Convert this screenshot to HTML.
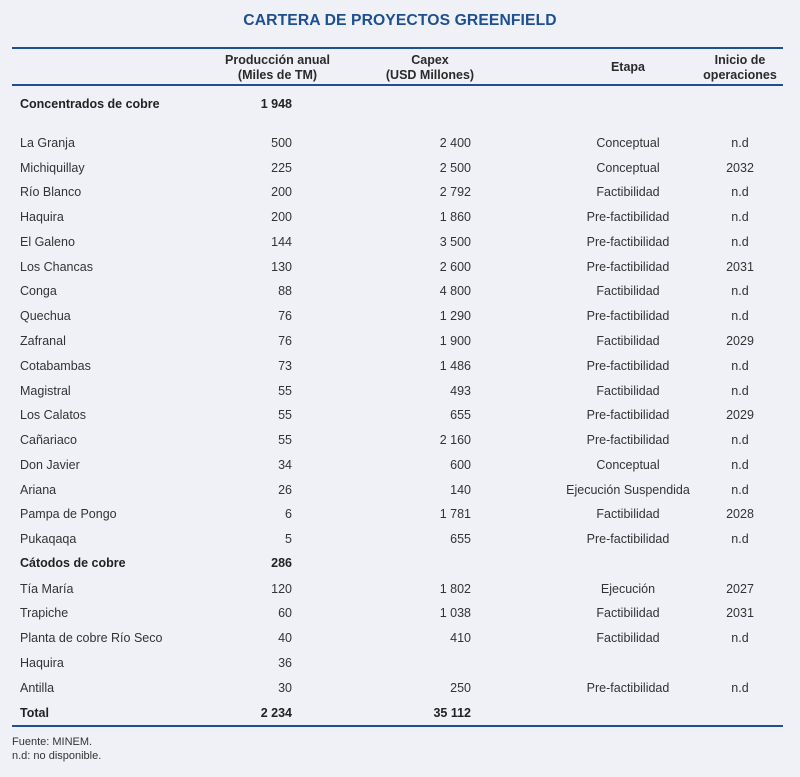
<!DOCTYPE html>
<html><head><meta charset="utf-8"><style>
body{margin:0;width:800px;height:777px;background:#f0f1f7;font-family:"Liberation Sans",sans-serif;color:#333;position:relative;overflow:hidden}
.t{position:absolute;left:0;width:800px;top:12px;text-align:center;font-size:15.7px;font-weight:bold;color:#1d4f91;letter-spacing:0.1px}
.hl{position:absolute;left:12px;width:771px;height:1.5px;background:#1d4f91}
.h{position:absolute;font-size:12.5px;font-weight:bold;line-height:15px;text-align:center;color:#2a2a2a}
.r{position:absolute;left:0;width:800px;height:18px;font-size:12.5px;line-height:18px}
.r span{position:absolute;white-space:nowrap}
.a{left:20px}.b{right:508px;text-align:right}.c{right:329px;text-align:right}
.d{left:548px;width:160px;text-align:center}.e{left:700px;width:80px;text-align:center}
.bo{font-weight:bold;color:#222}
.f{position:absolute;left:12px;font-size:11px;line-height:14px;top:735px}
</style></head><body>
<div class="t">CARTERA DE PROYECTOS GREENFIELD</div>
<div class="hl" style="top:47px"></div>
<div class="hl" style="top:84px"></div>
<div class="hl" style="top:725px"></div>
<div class="h" style="left:200px;width:155px;top:53px">Producción anual<br>(Miles de TM)</div>
<div class="h" style="left:365px;width:130px;top:53px">Capex<br>(USD Millones)</div>
<div class="h" style="left:548px;width:160px;top:60px">Etapa</div>
<div class="h" style="left:690px;width:100px;top:53px">Inicio de<br>operaciones</div>
<div class="r bo" style="top:95px"><span class="a">Concentrados de cobre</span><span class="b">1 948</span></div>
<div class="r" style="top:134px"><span class="a">La Granja</span><span class="b">500</span><span class="c">2 400</span><span class="d">Conceptual</span><span class="e">n.d</span></div>
<div class="r" style="top:159px"><span class="a">Michiquillay</span><span class="b">225</span><span class="c">2 500</span><span class="d">Conceptual</span><span class="e">2032</span></div>
<div class="r" style="top:183px"><span class="a">Río Blanco</span><span class="b">200</span><span class="c">2 792</span><span class="d">Factibilidad</span><span class="e">n.d</span></div>
<div class="r" style="top:208px"><span class="a">Haquira</span><span class="b">200</span><span class="c">1 860</span><span class="d">Pre-factibilidad</span><span class="e">n.d</span></div>
<div class="r" style="top:233px"><span class="a">El Galeno</span><span class="b">144</span><span class="c">3 500</span><span class="d">Pre-factibilidad</span><span class="e">n.d</span></div>
<div class="r" style="top:258px"><span class="a">Los Chancas</span><span class="b">130</span><span class="c">2 600</span><span class="d">Pre-factibilidad</span><span class="e">2031</span></div>
<div class="r" style="top:282px"><span class="a">Conga</span><span class="b">88</span><span class="c">4 800</span><span class="d">Factibilidad</span><span class="e">n.d</span></div>
<div class="r" style="top:307px"><span class="a">Quechua</span><span class="b">76</span><span class="c">1 290</span><span class="d">Pre-factibilidad</span><span class="e">n.d</span></div>
<div class="r" style="top:332px"><span class="a">Zafranal</span><span class="b">76</span><span class="c">1 900</span><span class="d">Factibilidad</span><span class="e">2029</span></div>
<div class="r" style="top:357px"><span class="a">Cotabambas</span><span class="b">73</span><span class="c">1 486</span><span class="d">Pre-factibilidad</span><span class="e">n.d</span></div>
<div class="r" style="top:382px"><span class="a">Magistral</span><span class="b">55</span><span class="c">493</span><span class="d">Factibilidad</span><span class="e">n.d</span></div>
<div class="r" style="top:406px"><span class="a">Los Calatos</span><span class="b">55</span><span class="c">655</span><span class="d">Pre-factibilidad</span><span class="e">2029</span></div>
<div class="r" style="top:431px"><span class="a">Cañariaco</span><span class="b">55</span><span class="c">2 160</span><span class="d">Pre-factibilidad</span><span class="e">n.d</span></div>
<div class="r" style="top:456px"><span class="a">Don Javier</span><span class="b">34</span><span class="c">600</span><span class="d">Conceptual</span><span class="e">n.d</span></div>
<div class="r" style="top:481px"><span class="a">Ariana</span><span class="b">26</span><span class="c">140</span><span class="d">Ejecución Suspendida</span><span class="e">n.d</span></div>
<div class="r" style="top:505px"><span class="a">Pampa de Pongo</span><span class="b">6</span><span class="c">1 781</span><span class="d">Factibilidad</span><span class="e">2028</span></div>
<div class="r" style="top:530px"><span class="a">Pukaqaqa</span><span class="b">5</span><span class="c">655</span><span class="d">Pre-factibilidad</span><span class="e">n.d</span></div>
<div class="r bo" style="top:554px"><span class="a">Cátodos de cobre</span><span class="b">286</span></div>
<div class="r" style="top:580px"><span class="a">Tía María</span><span class="b">120</span><span class="c">1 802</span><span class="d">Ejecución</span><span class="e">2027</span></div>
<div class="r" style="top:604px"><span class="a">Trapiche</span><span class="b">60</span><span class="c">1 038</span><span class="d">Factibilidad</span><span class="e">2031</span></div>
<div class="r" style="top:629px"><span class="a">Planta de cobre Río Seco</span><span class="b">40</span><span class="c">410</span><span class="d">Factibilidad</span><span class="e">n.d</span></div>
<div class="r" style="top:654px"><span class="a">Haquira</span><span class="b">36</span></div>
<div class="r" style="top:679px"><span class="a">Antilla</span><span class="b">30</span><span class="c">250</span><span class="d">Pre-factibilidad</span><span class="e">n.d</span></div>
<div class="r bo" style="top:704px"><span class="a">Total</span><span class="b">2 234</span><span class="c">35 112</span></div>
<div class="f">Fuente: MINEM.<br>n.d: no disponible.</div>
</body></html>
